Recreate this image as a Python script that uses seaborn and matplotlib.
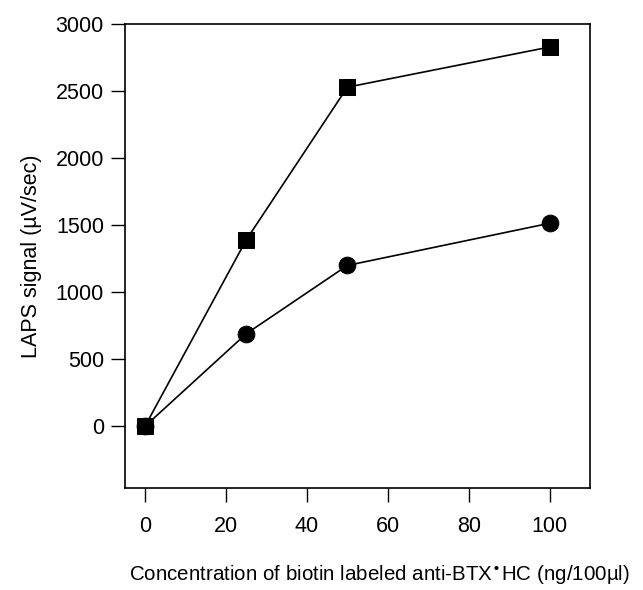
import matplotlib
matplotlib.use("Agg")
import matplotlib.pyplot as plt
import seaborn as sns
import pandas as pd

concentration = [0, 25, 50, 100]
signal_square = [0, 1390, 2530, 2830]
signal_circle = [0, 690, 1200, 1515]
series_names = ["square", "circle"]

sns.set_theme(style="white")
plt.rcParams['font.family'] = ['Liberation Sans', 'DejaVu Sans']

df = pd.DataFrame({
    "x": concentration * 2,
    "y": signal_square + signal_circle,
    "series": [series_names[0]] * 4 + [series_names[1]] * 4,
})

fig = plt.figure(figsize=(6.43, 5.90), dpi=100)
ax = fig.add_axes([0.194, 0.173, 0.724, 0.786])

sns.lineplot(data=df, x="x", y="y", style="series", markers={"square": "s", "circle": "o"},
             dashes=False, color="black", markersize=12, linewidth=1.2,
             markeredgecolor="black", legend=False, ax=ax)

ax.set_xlim(-5, 110)
ax.set_ylim(-460, 3000)
ax.set_xticks([0, 20, 40, 60, 80, 100])
ax.set_yticks([0, 500, 1000, 1500, 2000, 2500, 3000])
ax.tick_params(axis="both", direction="out", length=10, width=1, color="black",
               labelsize=15.5, labelcolor="black", bottom=True, left=True)
ax.tick_params(axis="x", pad=10)
ax.tick_params(axis="y", pad=5)
for s in ax.spines.values():
    s.set_color("black")
    s.set_linewidth(1.2)
ax.set_xlabel("Concentration of biotin labeled anti-BTX$^{\\bullet}$HC (ng/100\u00b5l)",
              fontsize=14.8, color="black")
ax.xaxis.set_label_coords(0.548, -0.163)
ax.set_ylabel("LAPS signal (\u00b5V/sec)", fontsize=15.5, labelpad=10, color="black")

fig.savefig("out.png", dpi=100)
